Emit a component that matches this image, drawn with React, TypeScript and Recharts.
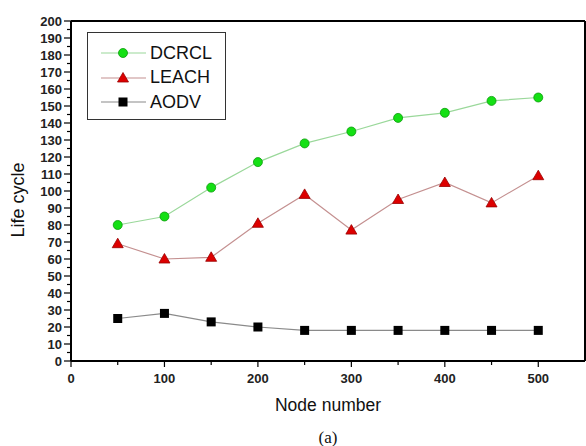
import { LineChart, Line, XAxis, YAxis, Label, ReferenceLine } from "recharts"

const nodes = [50, 100, 150, 200, 250, 300, 350, 400, 450, 500]
const dcrcl = [80, 85, 102, 117, 128, 135, 143, 146, 153, 155]
const leach = [69, 60, 61, 81, 98, 77, 95, 105, 93, 109]
const aodv = [25, 28, 23, 20, 18, 18, 18, 18, 18, 18]

const xTicks = [0, 50, 100, 150, 200, 250, 300, 350, 400, 450, 500, 550]
const yTicks = Array.from({ length: 41 }, (_, i) => i * 5)

const rows = nodes.map((n, i) => ({ n, dcrcl: dcrcl[i], leach: leach[i], aodv: aodv[i] }))

const FONT = "'Liberation Sans', Arial, sans-serif"

const SERIES = [
  { key: "dcrcl", name: "DCRCL", line: "#9ad89a", fill: "#14e014", edge: "#0a9a0a", shape: "circle" },
  { key: "leach", name: "LEACH", line: "#c49090", fill: "#dd0000", edge: "#990000", shape: "triangle" },
  { key: "aodv", name: "AODV", line: "#8a8a8a", fill: "#000000", edge: "#000000", shape: "square" },
]

function Marker({ cx, cy, shape, fill, edge }: any) {
  if (cx == null || cy == null) return null
  if (shape === "circle") return <circle cx={cx} cy={cy} r={4.5} fill={fill} stroke={edge} strokeWidth={0.8} />
  if (shape === "triangle")
    return <polygon points={`${cx},${cy - 5.5} ${cx - 5.5},${cy + 4} ${cx + 5.5},${cy + 4}`} fill={fill} stroke={edge} strokeWidth={0.8} />
  return <rect x={cx - 4.5} y={cy - 4.5} width={9} height={9} fill={fill} />
}

function YTick({ x, y, payload }: any) {
  const v = payload.value
  const major = v % 10 === 0
  return (
    <g>
      <line x1={x - (major ? 7 : 4)} x2={x} y1={y} y2={y} stroke="#000" strokeWidth={1.2} />
      {major && (
        <text x={x - 9} y={y} dy={4.5} textAnchor="end" fontSize={13} fontWeight={700} fontFamily={FONT} fill="#222">
          {v}
        </text>
      )}
    </g>
  )
}

function XTick({ x, y, payload }: any) {
  const v = payload.value
  if (v > 500) return null
  const major = v % 100 === 0
  return (
    <g>
      <line x1={x} x2={x} y1={y} y2={y + (major ? 6 : 4)} stroke="#000" strokeWidth={1.2} />
      {major && (
        <text x={x} y={y + 22} textAnchor="middle" fontSize={13} fontWeight={700} fontFamily={FONT} fill="#222">
          {v}
        </text>
      )}
    </g>
  )
}

function LegendBox() {
  return (
    <div style={{ position: "absolute", left: 87, top: 32, border: "1.5px solid #333", background: "#fff", width: 139, height: 88, padding: "8px 0 0", boxSizing: "border-box" }}>
      {SERIES.map((s) => (
        <div key={s.key} style={{ display: "flex", alignItems: "center", height: 24.5 }}>
          <svg width={62} height={20}>
            <line x1={13} x2={58} y1={10} y2={10} stroke={s.line} strokeWidth={1.2} />
            <Marker cx={35} cy={10} shape={s.shape} fill={s.fill} edge={s.edge} />
          </svg>
          <span style={{ fontFamily: FONT, fontSize: 18, color: "#111" }}>{s.name}</span>
        </div>
      ))}
    </div>
  )
}

export default function App() {
  return (
    <div style={{ position: "absolute", left: 0, top: 0, width: 586, height: 446, background: "#fff" }}>
      <LineChart width={586} height={446} data={rows} margin={{ top: 21, right: 1, bottom: 0, left: 0 }}>
        <XAxis
          dataKey="n"
          type="number"
          domain={[0, 550]}
          ticks={xTicks}
          interval={0}
          tick={<XTick />}
          tickLine={false}
          tickSize={0}
          tickMargin={0}
          height={85}
          axisLine={{ stroke: "#000", strokeWidth: 2 }}
        >
          <Label value="Node number" position="insideBottom" offset={35} style={{ fontFamily: FONT, fontSize: 17.5, fill: "#111" }} />
          <Label value="(a)" position="insideBottom" offset={3} style={{ fontFamily: "'Liberation Serif', 'Times New Roman', serif", fontSize: 17, fill: "#111" }} />
        </XAxis>
        <YAxis
          type="number"
          domain={[0, 200]}
          ticks={yTicks}
          interval={0}
          tick={<YTick />}
          tickLine={false}
          tickSize={0}
          tickMargin={0}
          width={71}
          axisLine={{ stroke: "#000", strokeWidth: 2 }}
        >
          <Label value="Life cycle" angle={-90} position="insideLeft" offset={18} dy={9} style={{ fontFamily: FONT, fontSize: 18, fill: "#111", textAnchor: "middle" }} />
        </YAxis>
        <ReferenceLine y={200} stroke="#000" strokeWidth={2} />
        <ReferenceLine x={550} stroke="#000" strokeWidth={2} />
        {SERIES.map((s) => (
          <Line
            key={s.key}
            dataKey={s.key}
            name={s.name}
            stroke={s.line}
            strokeWidth={1.2}
            isAnimationActive={false}
            dot={(p: any) => <Marker key={`${s.key}-${p.index}`} cx={p.cx} cy={p.cy} shape={s.shape} fill={s.fill} edge={s.edge} />}
            activeDot={false}
          />
        ))}
      </LineChart>
      <LegendBox />
    </div>
  )
}
